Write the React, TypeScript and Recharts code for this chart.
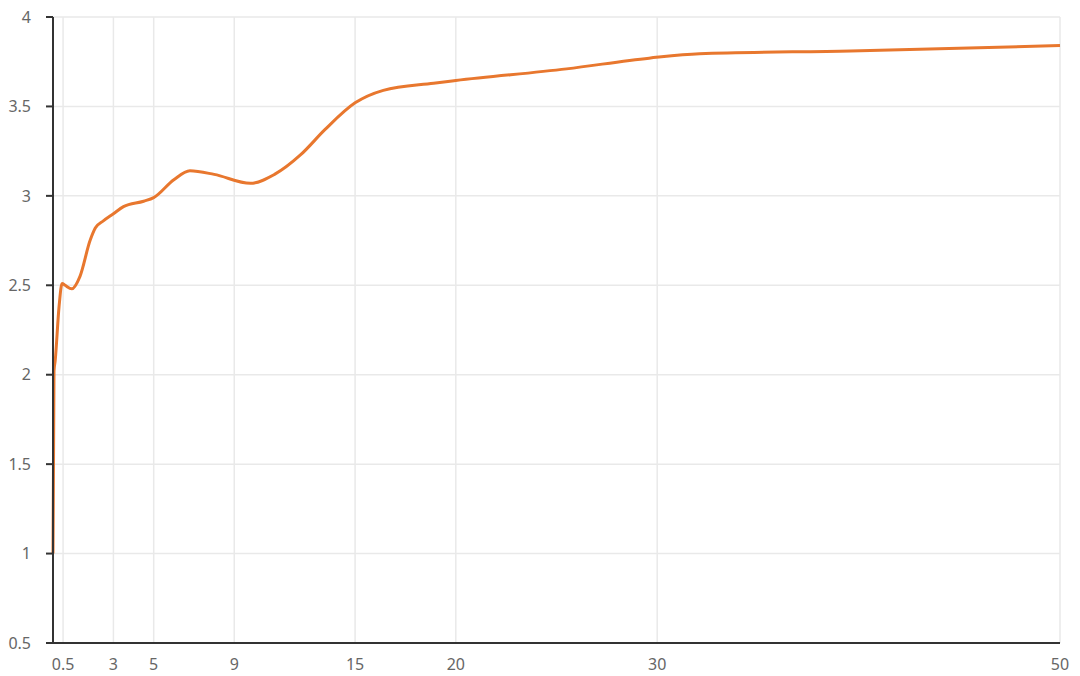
import { LineChart, Line, XAxis, YAxis, CartesianGrid } from 'recharts'

const xValues = [0, 0.05, 0.11, 0.3, 0.45, 0.6, 0.93, 1.34, 1.84, 2.1, 2.5, 3, 3.5, 4.5, 5, 6, 6.8, 8, 9.8, 11, 12.3, 13.5, 15, 16.4, 18.9, 20, 25.5, 29.6, 32.1, 39.6, 50]
const yValues = [1.0, 2.02, 2.08, 2.38, 2.51, 2.5, 2.48, 2.55, 2.75, 2.82, 2.86, 2.9, 2.94, 2.97, 2.99, 3.09, 3.14, 3.12, 3.07, 3.12, 3.23, 3.37, 3.52, 3.59, 3.63, 3.645, 3.71, 3.77, 3.795, 3.81, 3.84]

const xTicks = [0.5, 3, 5, 9, 15, 20, 30, 50]
const yTicks = [0.5, 1, 1.5, 2, 2.5, 3, 3.5, 4]

const data = xValues.map((x, i) => ({ x, y: yValues[i] }))

const tickStyle = { fill: '#666', fontSize: 16, fontFamily: 'Noto Sans, sans-serif' }

export default function App() {
  return (
    <div style={{ position: 'absolute', left: 0, top: 0, width: 1080, height: 676, background: '#fff' }}>
      <LineChart width={1080} height={676} data={data} margin={{ top: 17, right: 20, bottom: 0, left: 0 }}>
        <CartesianGrid stroke="#e9e9e9" strokeWidth={1.5} horizontalValues={yTicks} verticalValues={xTicks} />
        <XAxis
          dataKey="x"
          type="number"
          domain={[0, 50]}
          ticks={xTicks}
          height={33}
          tickSize={0}
          tickMargin={16}
          tickLine={false}
          axisLine={{ stroke: '#333', strokeWidth: 2 }}
          tick={tickStyle}
          interval={0}
        />
        <YAxis
          type="number"
          domain={[0.5, 4]}
          ticks={yTicks}
          width={53}
          tickSize={7}
          tickMargin={15}
          axisLine={{ stroke: '#333', strokeWidth: 2 }}
          tickLine={{ stroke: '#333', strokeWidth: 2 }}
          tick={tickStyle}
          interval={0}
        />
        <Line
          type="monotone"
          dataKey="y"
          stroke="#e8772e"
          strokeWidth={3}
          dot={false}
          isAnimationActive={false}
        />
      </LineChart>
    </div>
  )
}
